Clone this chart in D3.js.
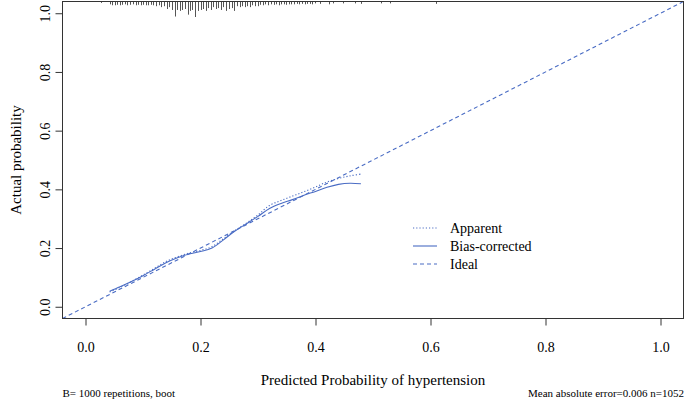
<!DOCTYPE html>
<html><head><meta charset="utf-8">
<script src="https://cdn.jsdelivr.net/npm/d3@7"></script>
<style>body{margin:0;background:#fff}svg{display:block}text{font-family:"Liberation Serif","DejaVu Serif",serif;fill:#000}</style>
</head><body><svg id="c" width="685" height="400"></svg>
<script>
const ticks = [0, 0.2, 0.4, 0.6, 0.8, 1.0];
const pred = [0.042, 0.06, 0.08, 0.10, 0.12, 0.14, 0.16, 0.18, 0.20, 0.22, 0.24, 0.26, 0.28, 0.30, 0.32, 0.34, 0.36, 0.38, 0.40, 0.42, 0.44, 0.46, 0.479];
const biasCorrected = [0.053, 0.068, 0.086, 0.106, 0.128, 0.150, 0.167, 0.180, 0.188, 0.200, 0.228, 0.258, 0.283, 0.308, 0.335, 0.352, 0.365, 0.380, 0.393, 0.407, 0.417, 0.421, 0.419];
const apparent = [0.050, 0.066, 0.086, 0.108, 0.131, 0.154, 0.170, 0.183, 0.192, 0.205, 0.232, 0.260, 0.285, 0.313, 0.345, 0.362, 0.377, 0.392, 0.408, 0.425, 0.437, 0.446, 0.452];
const ideal = [-0.04, 1.04];
const rugP = [0.027, 0.042, 0.046, 0.051, 0.055, 0.060, 0.064, 0.069, 0.073, 0.078, 0.082, 0.087, 0.091, 0.096, 0.100, 0.105, 0.109, 0.114, 0.118, 0.123, 0.127, 0.132, 0.136, 0.141, 0.145, 0.150, 0.155, 0.159, 0.164, 0.168, 0.173, 0.178, 0.182, 0.186, 0.191, 0.195, 0.200, 0.204, 0.209, 0.213, 0.218, 0.222, 0.227, 0.231, 0.236, 0.240, 0.245, 0.250, 0.254, 0.259, 0.263, 0.268, 0.272, 0.277, 0.281, 0.286, 0.290, 0.295, 0.300, 0.304, 0.309, 0.313, 0.318, 0.322, 0.327, 0.331, 0.336, 0.340, 0.345, 0.349, 0.354, 0.358, 0.363, 0.367, 0.372, 0.376, 0.381, 0.385, 0.390, 0.394, 0.399, 0.407, 0.424, 0.431, 0.448, 0.468, 0.479, 0.514, 0.529, 0.610];
const rugFreq = [1.5, 3, 4, 4, 3.5, 4, 3.5, 3, 4, 3.5, 3, 4, 3.5, 4, 3.5, 4, 4, 3.5, 4, 5, 4, 6, 5, 8, 6, 9, 16, 9, 10, 9, 8, 14, 10, 9, 16.5, 10, 9, 8, 10, 7, 9, 6, 8, 7, 9, 6, 10, 8, 7, 10, 5, 6, 5, 6, 5, 6, 4, 5, 5, 3.5, 4, 3, 4, 3, 3.5, 3, 4, 3, 3, 3.5, 3, 3, 3, 2.5, 3, 2.5, 3, 2.5, 2.5, 3, 2, 2.5, 3, 2, 2, 2, 2.5, 2, 2, 2.5];
const legendLabels = ["Apparent", "Bias-corrected", "Ideal"];
const xTitle = "Predicted Probability of hypertension";
const yTitle = "Actual probability";
const noteLeft = "B= 1000 repetitions, boot";
const noteRight = "Mean absolute error=0.006 n=1052";

const blue = "#4a6cc4";
const serif = "Liberation Serif, DejaVu Serif, serif";
const svg = d3.select("#c");
const L = 62.5, R = 683.5, T = 1.5, B = 318.5;
const x = d3.scaleLinear().domain([-0.04, 1.04]).range([L, R]);
const y = d3.scaleLinear().domain([-0.04, 1.04]).range([B, T]);
const h = d3.scaleLinear().domain([0, 16.5]).range([0, 15.5]);

svg.append("defs").append("clipPath").attr("id", "clip")
  .append("rect").attr("x", L).attr("y", T).attr("width", R - L).attr("height", B - T);

// rug spikes
svg.append("g").selectAll("line").data(rugP).join("line")
  .attr("x1", d => Math.round(x(d)) + 0.5).attr("x2", d => Math.round(x(d)) + 0.5)
  .attr("y1", T).attr("y2", (d, i) => T + h(rugFreq[i]))
  .attr("stroke", "#555").attr("stroke-width", 1);

const g = svg.append("g").attr("clip-path", "url(#clip)");
g.append("path").datum(ideal)
  .attr("d", d3.line().x(d => x(d)).y(d => y(d)))
  .attr("fill", "none").attr("stroke", blue).attr("stroke-width", 1.1).attr("stroke-dasharray", "4,3");
const line = d3.line().curve(d3.curveCatmullRom).x((d, i) => x(pred[i])).y(d => y(d));
g.append("path").datum(apparent).attr("d", line)
  .attr("fill", "none").attr("stroke", blue).attr("stroke-width", 1.1).attr("stroke-dasharray", "1.2,2");
g.append("path").datum(biasCorrected).attr("d", line)
  .attr("fill", "none").attr("stroke", blue).attr("stroke-width", 1.1);

// box
svg.append("rect").attr("x", L).attr("y", T).attr("width", R - L).attr("height", B - T)
  .attr("fill", "none").attr("stroke", "#333").attr("stroke-width", 1);

// axes
const xAxis = svg.append("g").attr("transform", `translate(0,${B})`)
  .call(d3.axisBottom(x).tickValues(ticks).tickFormat(d3.format(".1f")).tickSize(7).tickPadding(17));
xAxis.attr("font-family", serif).attr("font-size", 14);
xAxis.select(".domain").remove();
xAxis.selectAll("line").attr("stroke", "#333");

const yAxis = svg.append("g").attr("transform", `translate(${L},0)`)
  .call(d3.axisLeft(y).tickValues(ticks).tickFormat(d3.format(".1f")).tickSize(7).tickPadding(0));
yAxis.attr("font-family", serif).attr("font-size", 14);
yAxis.select(".domain").remove();
yAxis.selectAll("line").attr("stroke", "#333");
yAxis.selectAll("text")
  .attr("x", null)
  .attr("text-anchor", "middle")
  .attr("transform", "translate(-17,0) rotate(-90)")
  .attr("dy", "0.35em");

// titles
svg.append("text").attr("x", (L + R) / 2).attr("y", 385).attr("text-anchor", "middle")
  .style("font-size", "15px").text(xTitle);
svg.append("text").attr("transform", `translate(21,${(T + B) / 2}) rotate(-90)`).attr("text-anchor", "middle")
  .style("font-size", "15px").text(yTitle);
svg.append("text").attr("x", L).attr("y", 397).style("font-size", "11px").text(noteLeft);
svg.append("text").attr("x", R + 0.5).attr("y", 397).attr("text-anchor", "end").style("font-size", "11px").text(noteRight);

// legend
const dashes = ["1.2,2", null, "4,3"];
const lg = svg.append("g");
legendLabels.forEach((lab, i) => {
  const yy = 228 + i * 18;
  lg.append("line").attr("x1", 413).attr("x2", 437).attr("y1", yy).attr("y2", yy)
    .attr("stroke", blue).attr("stroke-width", 1.1).attr("stroke-dasharray", dashes[i]);
  lg.append("text").attr("x", 450).attr("y", yy).attr("dy", "0.35em").style("font-size", "14px").text(lab);
});
</script></body></html>
